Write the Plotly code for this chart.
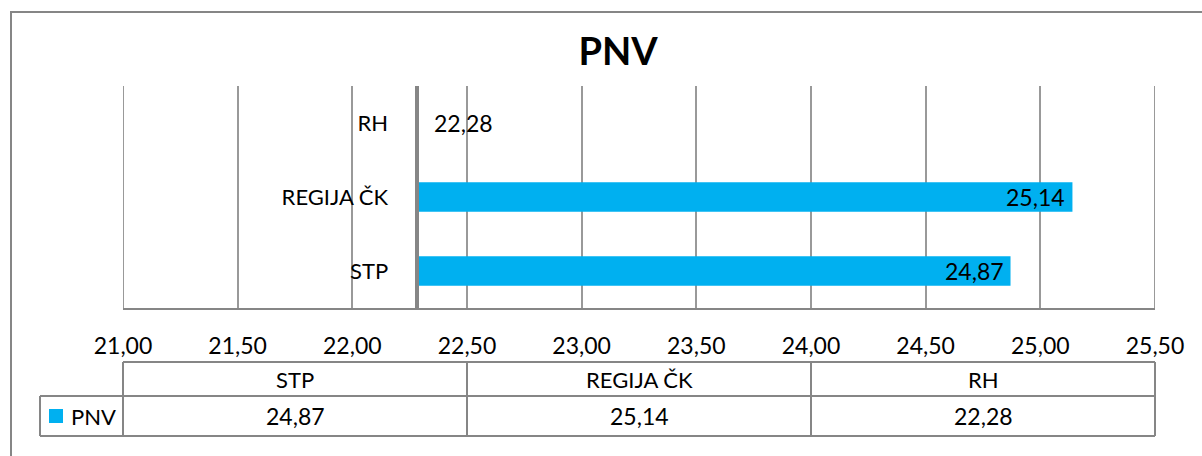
import plotly.graph_objects as go

# ---- data ----
categories = ["STP", "REGIJA ČK", "RH"]
values = [24.87, 25.14, 22.28]
series_name = "PNV"
axis_cross = 22.28
x_ticks = [21.0, 21.5, 22.0, 22.5, 23.0, 23.5, 24.0, 24.5, 25.0, 25.5]

BAR = "#00B0F0"
GRID = "#999999"
AX = "#868686"
FONT = "Lato"

W, H = 1202, 456
L, R, T, B = 123, 47, 86, 148
PW, PH = W - L - R, H - T - B


def px(x):
    return (x - L) / PW


def py(y):
    return 1 - (y - T) / PH


def fmt(v):
    return f"{v:.2f}".replace(".", ",")


fig = go.Figure()
fig.add_trace(go.Bar(
    y=categories,
    x=[v - axis_cross for v in values],
    base=axis_cross,
    orientation="h",
    marker=dict(color=BAR, line=dict(width=0)),
    name=series_name,
    hoverinfo="skip",
))

annotations = []
for c, v in zip(categories, values):
    if v > axis_cross:
        annotations.append(dict(x=v, y=c, xref="x", yref="y", text=fmt(v),
                                xanchor="right", yanchor="middle", xshift=-5,
                                showarrow=False, font=dict(family=FONT, size=23, color="black")))
    else:
        annotations.append(dict(x=v, y=c, xref="x", yref="y", text=fmt(v),
                                xanchor="left", yanchor="middle", xshift=15,
                                showarrow=False, font=dict(family=FONT, size=23, color="black")))

shapes = []
# edge gridlines (plotly omits them at the range ends)
for xv in (x_ticks[0], x_ticks[-1]):
    shapes.append(dict(type="line", xref="x", yref="paper", x0=xv, x1=xv, y0=0, y1=1,
                       line=dict(color=GRID, width=2), layer="below"))
# outer frame
shapes.append(dict(type="rect", xref="paper", yref="paper", x0=px(11), x1=px(1215),
                   y0=py(12), y1=py(470), line=dict(color=AX, width=2), fillcolor="rgba(0,0,0,0)"))

# data table
n = len(categories)
col_edges = [L + k * PW / n for k in range(n + 1)]
ty0, ty1, ty2 = 362, 396, 436
leg_x = 40
tline = dict(color=AX, width=2)
shapes.append(dict(type="line", xref="paper", yref="paper", x0=px(L), x1=px(L + PW), y0=py(ty0), y1=py(ty0), line=tline))
for yy in (ty1, ty2):
    shapes.append(dict(type="line", xref="paper", yref="paper", x0=px(leg_x), x1=px(L + PW), y0=py(yy), y1=py(yy), line=tline))
shapes.append(dict(type="line", xref="paper", yref="paper", x0=px(leg_x), x1=px(leg_x), y0=py(ty1), y1=py(ty2), line=tline))
for xe in col_edges:
    shapes.append(dict(type="line", xref="paper", yref="paper", x0=px(xe), x1=px(xe), y0=py(ty0), y1=py(ty2), line=tline))

for i, (c, v) in enumerate(zip(categories, values)):
    cx = (col_edges[i] + col_edges[i + 1]) / 2
    annotations.append(dict(x=px(cx), y=py((ty0 + ty1) / 2), xref="paper", yref="paper", text=c,
                            showarrow=False, xanchor="center", yanchor="middle",
                            font=dict(family=FONT, size=22, color="black")))
    annotations.append(dict(x=px(cx), y=py((ty1 + ty2) / 2), xref="paper", yref="paper", text=fmt(v),
                            showarrow=False, xanchor="center", yanchor="middle",
                            font=dict(family=FONT, size=23, color="black")))

# legend key in table
shapes.append(dict(type="rect", xref="paper", yref="paper", x0=px(49), x1=px(63), y0=py(423), y1=py(409),
                   fillcolor=BAR, line=dict(width=0)))
annotations.append(dict(x=px(69), y=py(416), xref="paper", yref="paper", text=series_name, showarrow=False,
                        xanchor="left", yanchor="middle", font=dict(family=FONT, size=22, color="black")))

fig.update_layout(
    width=W, height=H,
    margin=dict(l=L, r=R, t=T, b=B),
    paper_bgcolor="white", plot_bgcolor="white",
    showlegend=False,
    bargap=0.6,
    title=dict(text="<b>PNV</b>", x=618 / W, xanchor="center", y=1 - 52 / H, yanchor="middle",
               xref="container", yref="container", font=dict(family=FONT, size=38, color="black")),
    xaxis=dict(range=[x_ticks[0], x_ticks[-1]], tickvals=x_ticks, ticktext=[fmt(t) for t in x_ticks],
               showgrid=True, gridcolor=GRID, gridwidth=2, showline=True, linecolor=AX, linewidth=2,
               zeroline=False, ticks="", ticklabelstandoff=16,
               tickfont=dict(family=FONT, size=23, color="black"), fixedrange=True),
    yaxis=dict(anchor="free", position=(axis_cross - x_ticks[0]) / (x_ticks[-1] - x_ticks[0]),
               showline=True, linecolor=AX, linewidth=4, showgrid=False, zeroline=False, ticks="",
               ticklabelstandoff=22, tickfont=dict(family=FONT, size=22, color="black"), fixedrange=True),
    shapes=shapes,
    annotations=annotations,
)

fig.write_html("out.html")
